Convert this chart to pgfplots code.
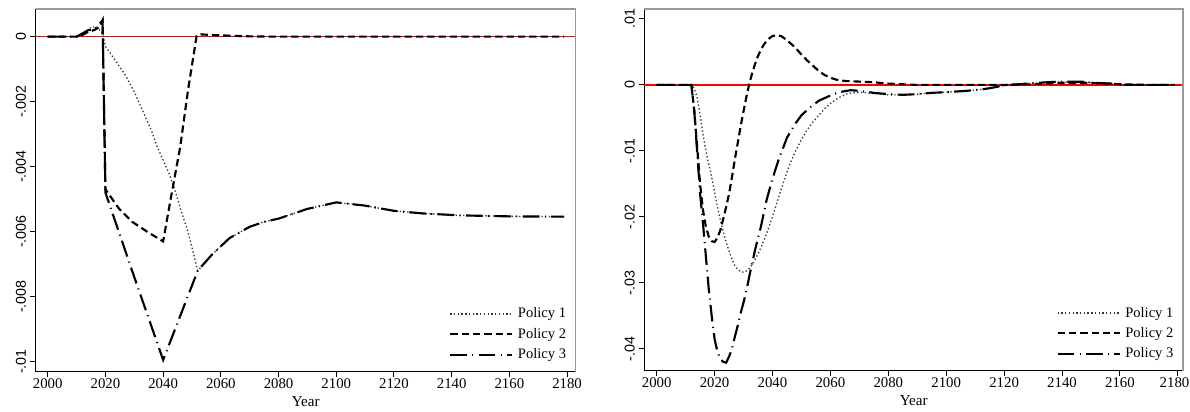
\documentclass[border=0pt]{standalone}
\usepackage{pgfplots}
\pgfplotsset{compat=1.18}
\usepackage{fontspec}
\setmainfont{Liberation Serif}
\newfontfamily\sansf{Liberation Sans}

\pgfplotstableread{
x y
2000 0
2010 0
2012 0.00005
2014 0.0002
2015 0.0003
2017 0.0003
2019 0.0001
2020 -0.0003
2024 -0.0008
2027 -0.0012
2030 -0.0017
2033 -0.0023
2036 -0.0029
2038 -0.0034
2040 -0.0038
2042 -0.0042
2044 -0.0047
2046 -0.0053
2048.6 -0.0060
2052 -0.0072
2057 -0.0067
2063 -0.0062
2070 -0.00585
2075 -0.0057
2080 -0.0056
2090 -0.0053
2100 -0.0051
2110 -0.0052
2120 -0.00536
2130 -0.00544
2143 -0.0055
2160 -0.00553
2179 -0.00554
}\LA
\pgfplotstableread{
x y
2000 0
2010 0
2012 0.00005
2014 0.00015
2016 0.0002
2018 0.0003
2019 0.0005
2020 -0.0047
2024.6 -0.00528
2029.3 -0.0057
2035.3 -0.00605
2040 -0.0063
2042.6 -0.0050
2045.9 -0.0034
2048.7 -0.0016
2051.6 0.00002
2053 0.00007
2060 0.00004
2070 0.00001
2080 0
2179 0
}\LB
\pgfplotstableread{
x y
2000 0
2010 0
2012 0.0001
2014 0.0002
2016 0.0002
2018 0.0004
2019 0.0005
2020 -0.0048
2030 -0.0074
2040 -0.00995
2052 -0.0072
2057 -0.0067
2063 -0.0062
2070 -0.00585
2075 -0.0057
2080 -0.0056
2090 -0.0053
2100 -0.0051
2110 -0.0052
2120 -0.00536
2130 -0.00544
2143 -0.0055
2160 -0.00553
2179 -0.00554
}\LC

\pgfplotstableread{
x y
2000 0
2012 0
2013 -0.0005
2014 -0.002
2015 -0.0045
2016 -0.0075
2017 -0.0100
2018 -0.0120
2019 -0.0140
2020 -0.0162
2021 -0.0185
2022 -0.0205
2023 -0.0223
2024 -0.0238
2025 -0.0252
2026 -0.0264
2027 -0.0274
2028 -0.0280
2029 -0.0283
2030 -0.0284
2031 -0.0282
2032 -0.0278
2033 -0.0272
2034 -0.0265
2035 -0.0256
2036 -0.0247
2037 -0.0236
2038 -0.0225
2040 -0.0200
2042 -0.0172
2044 -0.0145
2046 -0.0120
2048 -0.0100
2050 -0.0083
2052 -0.0068
2054 -0.0056
2056 -0.0046
2058 -0.0036
2060 -0.0028
2063 -0.0019
2066 -0.0013
2070 -0.0011
2075 -0.0013
2080 -0.0015
2085 -0.0015
2090 -0.0014
2095 -0.0012
2100 -0.0011
2107 -0.0009
2112 -0.0007
2115 -0.0005
2121 0
2125 0.0001
2130 0.00026
2138 0.00045
2147 0.00045
2152 0.0003
2157 0.0002
2162 0
2179 0
}\RA
\pgfplotstableread{
x y
2000 0
2012 0
2013 -0.004
2014 -0.0095
2015 -0.0150
2016 -0.0190
2017 -0.0215
2018 -0.0230
2019 -0.0237
2020 -0.0238
2021 -0.0232
2022 -0.0220
2023 -0.0203
2024 -0.0185
2025 -0.0165
2026 -0.0140
2027 -0.0113
2028 -0.0088
2029 -0.0063
2030 -0.0040
2031 -0.0018
2032 0.0002
2033 0.0018
2034 0.0032
2035 0.0044
2036 0.0053
2037 0.0061
2038 0.0067
2039 0.0071
2040 0.0074
2041 0.0075
2042 0.0075
2043 0.0074
2044 0.0071
2046 0.0064
2048 0.0056
2050 0.0046
2052 0.0037
2054 0.0029
2056 0.0021
2058 0.0015
2060 0.0011
2062 0.0008
2065 0.0006
2070 0.0005
2075 0.0004
2080 0.0002
2085 0.0001
2090 0
2120 0
2130 0.0001
2140 0.0003
2150 0.0003
2160 0.0001
2170 0
2179 0
}\RB
\pgfplotstableread{
x y
2000 0
2012 0
2013 -0.004
2014 -0.0102
2015 -0.0165
2016 -0.0210
2017 -0.0260
2018 -0.0310
2019 -0.0350
2020 -0.0385
2021 -0.0405
2022 -0.0415
2023 -0.0420
2024 -0.0421
2025 -0.0412
2026 -0.0400
2027 -0.0382
2028 -0.0365
2029 -0.0346
2030 -0.0330
2031 -0.0312
2032 -0.0290
2033 -0.0270
2034 -0.0250
2035 -0.0232
2036 -0.0215
2038 -0.0174
2040 -0.0142
2042 -0.0115
2045 -0.0080
2048 -0.0058
2050 -0.0046
2053 -0.0034
2056 -0.0024
2060 -0.0016
2063 -0.0011
2067 -0.0008
2070 -0.0009
2075 -0.0012
2080 -0.0014
2085 -0.0015
2090 -0.0014
2095 -0.0012
2100 -0.0011
2107 -0.0009
2112 -0.0007
2115 -0.0005
2121 0
2125 0.0001
2130 0.00028
2138 0.00048
2147 0.00048
2152 0.0003
2157 0.0002
2162 0
2179 0
}\RC

\pgfplotsset{
  stata/.style={
    scale only axis,
    axis x line*=bottom,
    axis y line*=left,
    axis line style={black, line width=1.1pt},
    tick align=outside,
    major tick length=4pt,
    tick style={black, line width=0.8pt},
    xtick={2000,2020,...,2180},
    xticklabel style={font=\fontsize{11.1}{13}\selectfont, inner sep=1pt},
    yticklabel style={font=\sansf\fontsize{10.7}{12}\selectfont, rotate=90, anchor=south, inner sep=3pt},
    scaled y ticks=false,
    xlabel={Year},
    xlabel style={font=\fontsize{11.3}{13}\selectfont, inner sep=0pt, yshift=-4.5pt},
    clip=false,
    legend cell align=left,
    legend style={draw=none, fill=none, at={(0.985,0.026)}, anchor=south east,
      font=\fontsize{10.9}{12.5}\selectfont, row sep=4.2pt, inner sep=0pt,
      nodes={inner sep=1pt}},
    legend image code/.code={\draw[##1] (0pt,0pt) -- (46.5pt,0pt); \path (49pt,0pt);},
  },
  p1/.style={black!80, line width=1pt, dash pattern=on 1pt off 1.8pt},
  p2/.style={black, line width=1.6pt, dash pattern=on 5.5pt off 3pt},
  p3/.style={black, line width=1.6pt, dash pattern=on 12.5pt off 4pt on 0.8pt off 4pt},
}

\begin{document}
\begin{tikzpicture}
\begin{axis}[stata, at={(26.8pt,29.5pt)}, anchor=south west,
  width=405pt, height=272pt,
  xmin=1995.84, xmax=2183.0, ymin=-0.01031, ymax=0.000852,
  xticklabels={2000,2020,2040,2060,2080,2100,2120,2140,2160,2180},
  ytick={-0.01,-0.008,-0.006,-0.004,-0.002,0},
  yticklabels={-.01,-.008,-.006,-.004,-.002,0}]
\addplot[red, line width=0.9pt, forget plot] coordinates {(1995.84,0) (2183.0,0)};
\addplot[p1] table[x=x,y=y] {\LA};
\addplot[p2] table[x=x,y=y] {\LB};
\addplot[p3] table[x=x,y=y] {\LC};
\legend{Policy 1, Policy 2, Policy 3}
\draw[gray!80, line width=1.1pt] (rel axis cs:0,1) -- (rel axis cs:1,1) -- (rel axis cs:1,0);
\end{axis}
\begin{axis}[stata, at={(483.2pt,30.2pt)}, anchor=south west,
  width=404.1pt, height=271.3pt,
  xmin=1995.72, xmax=2181.8, ymin=-0.04333, ymax=0.01151,
  xticklabels={2000,2020,2040,2060,2080,2100,2120,2140,2160,\hspace*{-5pt}2180},
  ytick={-0.04,-0.03,-0.02,-0.01,0,0.01},
  yticklabels={-.04,-.03,-.02,-.01,0,.01}]
\addplot[red, line width=0.9pt, forget plot] coordinates {(1995.72,0) (2181.8,0)};
\addplot[p1] table[x=x,y=y] {\RA};
\addplot[p2] table[x=x,y=y] {\RB};
\addplot[p3] table[x=x,y=y] {\RC};
\legend{Policy 1, Policy 2, Policy 3}
\draw[gray!80, line width=1.1pt] (rel axis cs:0,1) -- (rel axis cs:1,1) -- (rel axis cs:1,0);
\end{axis}
\pgfresetboundingbox
\path[use as bounding box] (0,0) rectangle (892.5pt,308.25pt);
\end{tikzpicture}
\end{document}
